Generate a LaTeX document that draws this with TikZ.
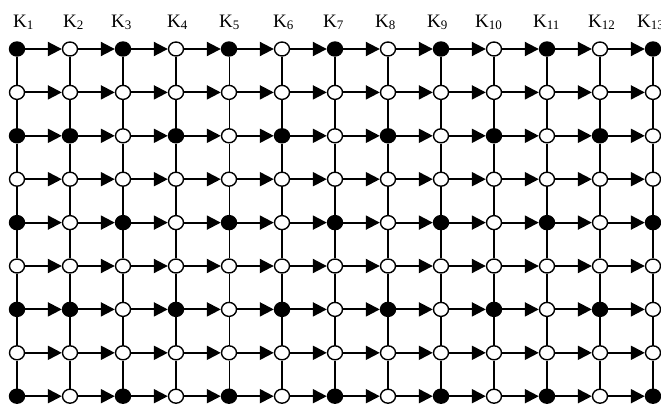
\documentclass[tikz,border=0pt]{standalone}
\usepackage{fontspec}
\setmainfont{Liberation Serif}
\usetikzlibrary{arrows.meta}
\tikzset{
  x=1pt, y=-1pt,
  vtx/.style={ellipse, draw=black, line width=1.4pt, minimum width=15pt, minimum height=14pt, inner sep=0pt},
  full/.style={vtx, fill=black},
  hollow/.style={vtx, fill=white},
  harrow/.style={line width=2pt, -{Triangle[length=14pt,width=14pt]}},
  klabel/.style={anchor=base west, inner sep=0pt, font=\fontsize{19}{19}\selectfont}
}
\usetikzlibrary{shapes.geometric}
\newcommand{\klab}[1]{K\raisebox{-2.5pt}{\fontsize{13}{13}\selectfont #1}}
\begin{document}
\begin{tikzpicture}
\clip (0,0) rectangle (661,410);
\fill[white] (0,0) rectangle (661,410);
% labels
\foreach \c/\lx in {1/13,2/63,3/111,4/167,5/219,6/273,7/323,8/375,9/427,10/475,11/533,12/588,13/637} {
  \node[klabel] (k\c) at (\lx,27) {\klab{\c}};
}
% vertices: row type A (1,5,9), B (3,7), open (2,4,6,8)
\foreach \c in {1,...,13} {
  \pgfmathsetmacro{\xx}{17+(\c-1)*53}
  \foreach \r in {1,...,9} {
    \pgfmathsetmacro{\yy}{49+(\r-1)*43.4}
    \pgfmathtruncatemacro{\rodd}{mod(\r,2)}
    \pgfmathtruncatemacro{\rtype}{ifthenelse(\rodd==0,0,ifthenelse(mod(\r,4)==1,1,2))}
    \pgfmathtruncatemacro{\isfull}{ifthenelse(\rtype==1, mod(\c,2)==1, ifthenelse(\rtype==2, (\c==1) || (mod(\c,2)==0), 0))}
    \ifnum\isfull=1
      \node[full] (n\c-\r) at (\xx,\yy) {};
    \else
      \node[hollow] (n\c-\r) at (\xx,\yy) {};
    \fi
  }
}
% vertical lines (varying widths)
\foreach \c/\w in {1/1.5,2/1.5,3/2.2,4/2.2,5/0.9,6/1.5,7/1.5,8/1.5,9/1.5,10/2.6,11/2.0,12/1.5,13/1.5} {
  \foreach \r [evaluate=\r as \rn using int(\r+1)] in {1,...,8} {
    \draw[line width=\w pt] (n\c-\r) -- (n\c-\rn);
  }
}
% horizontal arrows
\foreach \r in {1,...,9} {
  \foreach \c [evaluate=\c as \cn using int(\c+1)] in {1,...,12} {
    \draw[harrow] (n\c-\r) -- (n\cn-\r);
  }
}
\end{tikzpicture}
\end{document}
